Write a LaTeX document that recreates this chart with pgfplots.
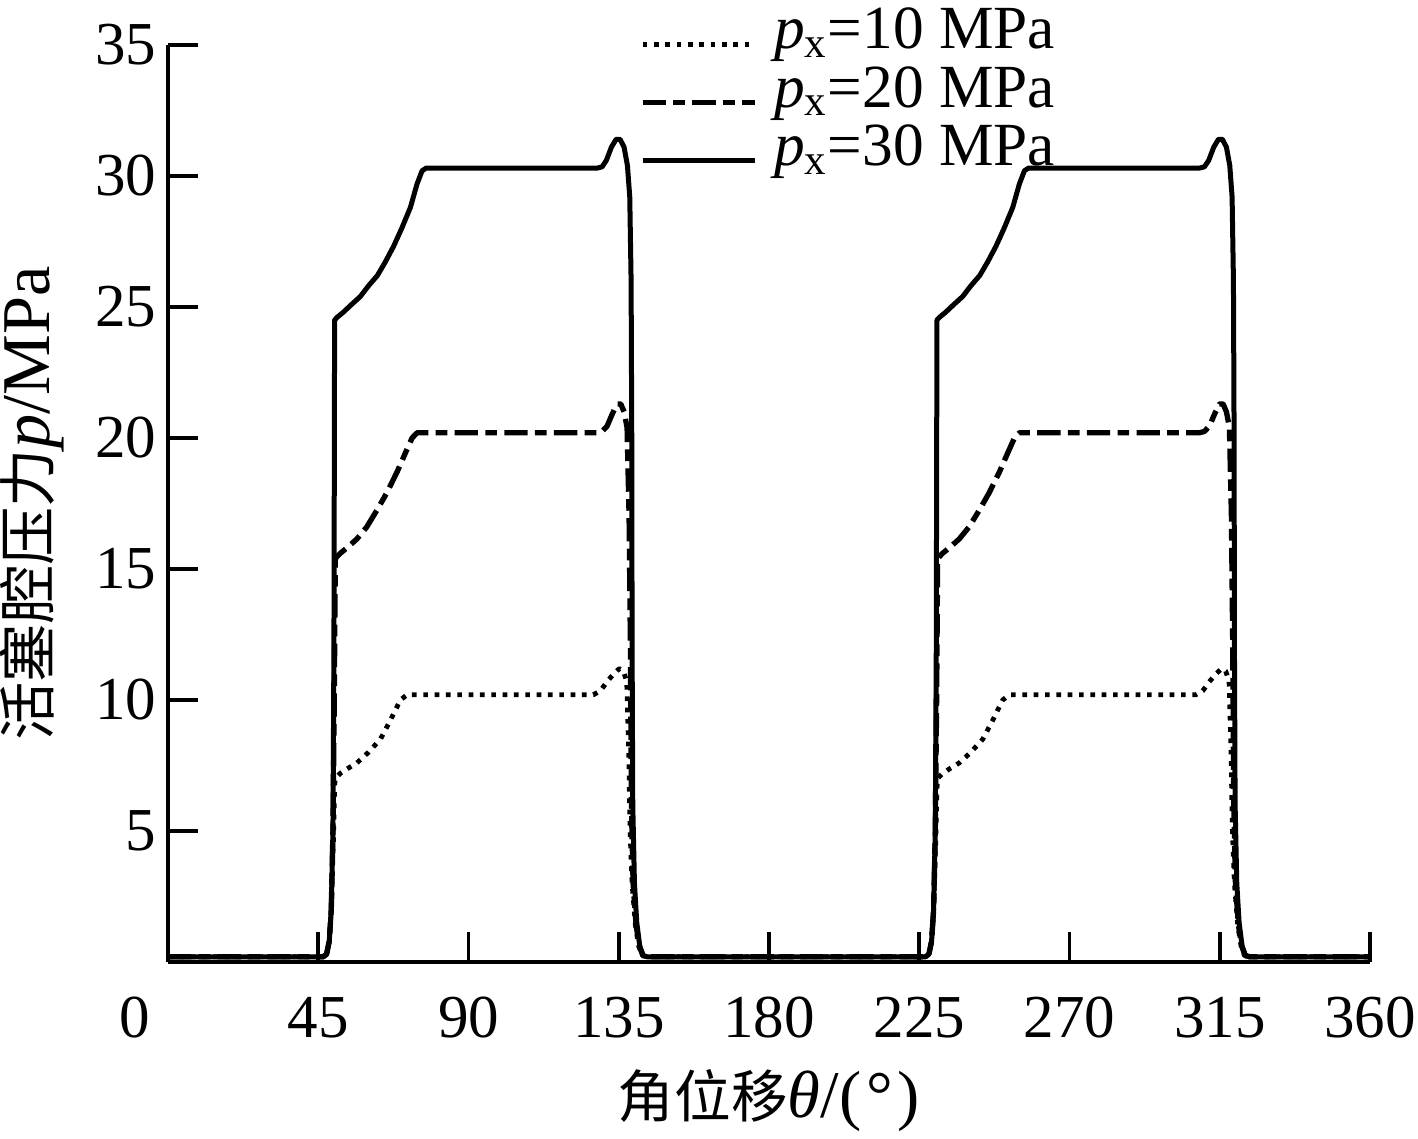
\documentclass[border=0pt]{standalone}
\usepackage{pgfplots}
\pgfplotsset{compat=1.18}
\usepackage{pgfplotstable}
\usepackage{fontspec}
\setmainfont{Liberation Serif}
\newfontfamily\cjk{Noto Sans CJK SC}

\pgfplotstableread{
x y
0 0.2
46.5 0.2
47.5 0.3
48.3 0.8
48.9 2.0
49.5 4.5
50.0 7.0
51.6 7.2
54 7.4
56.6 7.6
60 8.0
63.6 8.5
66.5 9.2
69.6 10.0
71.6 10.2
127.4 10.2
129.5 10.35
131.5 10.7
133.5 11.0
135.2 11.2
136.4 11.1
137.4 10.7
138.0 8
138.4 5
139.0 3
140.0 1.4
141.0 0.6
142.0 0.25
143.5 0.2
226.9 0.2
227.9 0.3
228.7 0.8
229.3 2.0
229.9 4.5
230.4 7.0
232.0 7.2
234.4 7.4
237.0 7.6
240.4 8.0
244.0 8.5
246.9 9.2
250.0 10.0
252.0 10.2
307.8 10.2
309.9 10.35
311.9 10.7
313.9 11.0
315.6 11.2
316.8 11.1
317.8 10.7
318.4 8
318.8 5
319.4 3
320.4 1.4
321.4 0.6
322.4 0.25
323.9 0.2
360 0.2
}\dataten

\pgfplotstableread{
x y
0 0.2
46.5 0.2
47.5 0.3
48.3 0.8
48.9 2.0
49.4 5.0
49.8 10
50.1 15.4
51.6 15.6
54 15.85
56.6 16.15
59.5 16.6
62.6 17.25
65.5 17.9
68.6 18.7
71 19.4
73.1 20.0
74.6 20.2
128.5 20.2
130 20.25
131.5 20.45
133 20.9
134.5 21.3
135.6 21.3
136.6 21.0
137.5 20.4
138.1 17
138.5 12
138.8 6
139.3 3
140.2 1.4
141.2 0.6
142.2 0.25
143.5 0.2
226.9 0.2
227.9 0.3
228.7 0.8
229.3 2.0
229.8 5.0
230.2 10
230.5 15.4
232.0 15.6
234.4 15.85
237.0 16.15
239.9 16.6
243.0 17.25
245.9 17.9
249.0 18.7
251.4 19.4
253.5 20.0
255.0 20.2
308.9 20.2
310.4 20.25
311.9 20.45
313.4 20.9
314.9 21.3
316.0 21.3
317.0 21.0
317.9 20.4
318.5 17
318.9 12
319.2 6
319.7 3
320.6 1.4
321.6 0.6
322.6 0.25
323.9 0.2
360 0.2
}\datatwenty

\pgfplotstableread{
x y
0 0.2
46.5 0.2
47.5 0.3
48.3 0.8
48.9 2.0
49.4 5.0
49.7 12
49.9 24.5
50.6 24.6
52.5 24.8
55 25.1
57.6 25.4
60 25.8
62.7 26.2
65 26.7
67.5 27.3
70 28.0
72.6 28.8
74.6 29.7
76.1 30.2
77.3 30.3
128.5 30.3
130 30.35
131.3 30.6
132.8 31.1
134.2 31.4
135.4 31.4
136.6 31.1
137.6 30.4
138.3 29.2
138.7 26
138.9 20
139.0 12
139.2 6
139.7 3
140.4 1.5
141.3 0.6
142.3 0.25
143.5 0.2
226.9 0.2
227.9 0.3
228.7 0.8
229.3 2.0
229.8 5.0
230.1 12
230.3 24.5
231.0 24.6
232.9 24.8
235.4 25.1
238.0 25.4
240.4 25.8
243.1 26.2
245.4 26.7
247.9 27.3
250.4 28.0
253.0 28.8
255.0 29.7
256.5 30.2
257.7 30.3
308.9 30.3
310.4 30.35
311.7 30.6
313.2 31.1
314.6 31.4
315.8 31.4
317.0 31.1
318.0 30.4
318.7 29.2
319.1 26
319.3 20
319.4 12
319.6 6
320.1 3
320.8 1.5
321.7 0.6
322.7 0.25
323.9 0.2
360 0.2
}\datathirty

\begin{document}
\begin{tikzpicture}
\begin{axis}[
  name=ax,
  scale only axis,
  width=360.6bp, height=275.1bp,
  xmin=0, xmax=360, ymin=0, ymax=35,
  axis x line*=bottom, axis y line*=left,
  axis line style={-, line width=1.2bp},
  every tick/.style={black, line width=1.1bp},
  tick align=inside,
  major tick length=9bp,
  xtick={0,45,...,360},
  xticklabels={\llap{0\hspace{5.5bp}},45,90,135,180,225,270,315,360},
  ytick={5,10,...,35},
  tick label style={font=\fontsize{18.3bp}{20bp}\selectfont},
  xticklabel style={yshift=-7bp},
  /pgf/number format/assume math mode=true,
  xlabel={{\fontsize{17bp}{18bp}\selectfont\cjk 角位移}{\fontsize{20bp}{22bp}\selectfont\textit{θ}/(\hspace{1.5bp}°\hspace{1.5bp})}},
  xlabel style={at={(axis description cs:0.5,-0.151)}, anchor=center, inner sep=0pt},
  ylabel={{\fontsize{17.5bp}{18bp}\selectfont\cjk 活塞腔压力}{\fontsize{20.5bp}{22bp}\selectfont\textit{p}/MPa}},
  ylabel style={at={(axis description cs:-0.113,0.5)}, anchor=center, inner sep=0pt},
  legend style={at={(rel axis cs:0.3927,1.040)}, anchor=north west, draw=none, fill=none,
    inner sep=0pt, outer sep=0pt, row sep=0pt, column sep=5bp,
    font=\fontsize{18.4bp}{20bp}\selectfont,
    nodes={inner sep=0pt, text height=12.2bp, text depth=5.3bp}},
  legend cell align=left,
  legend image code/.code={\draw[#1] (0bp,-2bp) -- (33.6bp,-2bp);},
  line join=round,
]
\addplot[black, line width=1.45bp, dash pattern=on 1.4bp off 2bp] table[x=x,y=y] {\dataten};
\addlegendentry{\textit{p}\textsubscript{x}=10 MPa}
\addplot[black, line width=1.6bp, dash pattern=on 7bp off 2.2bp on 3.5bp off 2.2bp] table[x=x,y=y] {\datatwenty};
\addlegendentry{\textit{p}\textsubscript{x}=20 MPa}
\addplot[black, line width=1.5bp] table[x=x,y=y] {\datathirty};
\addlegendentry{\textit{p}\textsubscript{x}=30 MPa}
\end{axis}
\pgfresetboundingbox
\path[use as bounding box] ([xshift=-50.4bp,yshift=-53.1bp]ax.south west) rectangle ([xshift=375bp,yshift=288.6bp]ax.south west);
\end{tikzpicture}
\end{document}
